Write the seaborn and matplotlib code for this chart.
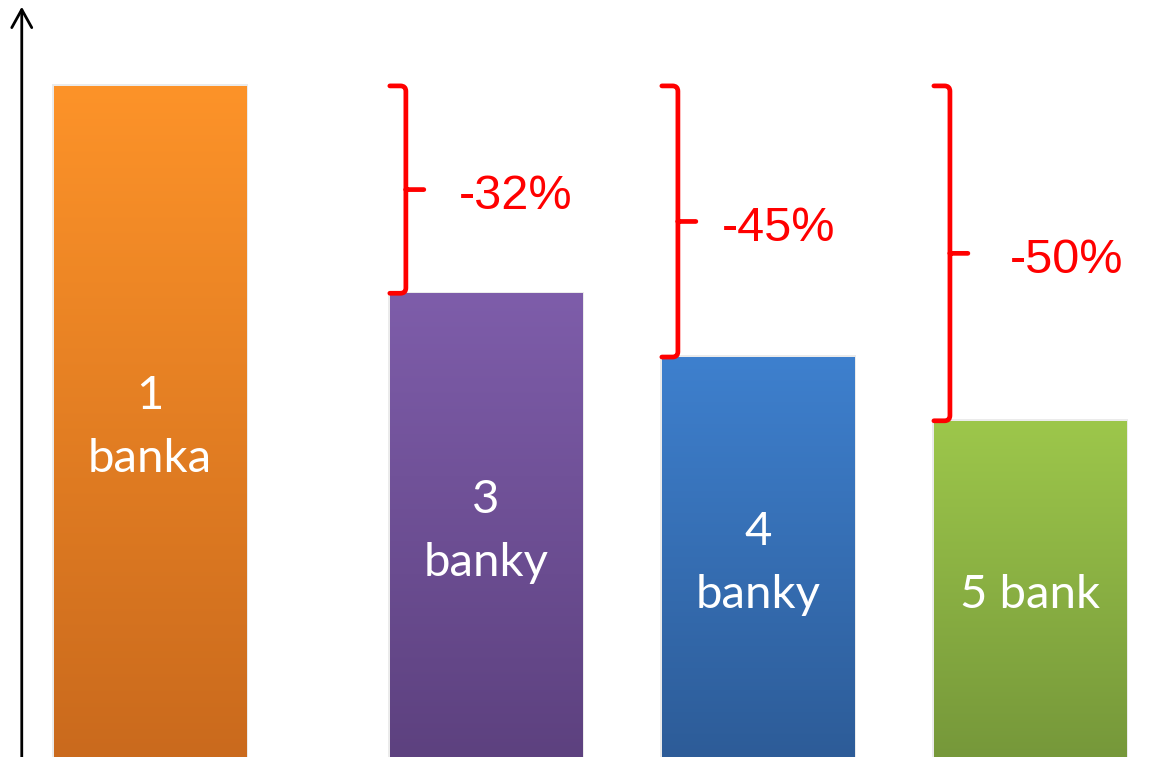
import numpy as np
import pandas as pd
import matplotlib.pyplot as plt
import seaborn as sns
from matplotlib.colors import LinearSegmentedColormap
from matplotlib.path import Path
from matplotlib.patches import PathPatch

# data (bar heights relative to the first bar)
labels = ["1\nbanka", "3\nbanky", "4\nbanky", "5 bank"]
values = [100, 69.1, 59.6, 50.1]
xpos = [0, 1.235, 2.235, 3.235]
drops = ["-32%", "-45%", "-50%"]
top_colors = ["#FD9329", "#7E5DAA", "#3E80CE", "#9DC74B"]
bottom_colors = ["#CA6A1D", "#5D417F", "#2D5C98", "#76983A"]

df = pd.DataFrame({"x": xpos, "value": values, "label": labels})

sns.set_theme(style="white")
fig = plt.figure(figsize=(11.73, 7.57), dpi=100)
ax = fig.add_axes([0, 0, 1, 1])
sns.barplot(data=df, x="x", y="value", native_scale=True, width=0.706,
            color="white", saturation=1, ax=ax, errorbar=None)
ax.set_xlim(-0.551, 3.761)
ax.set_ylim(0, 112.8)
ax.axis("off")

# gradient fill inside each bar
bars = sorted(ax.patches, key=lambda p: p.get_x())
for bar, c_top, c_bot in zip(bars, top_colors, bottom_colors):
    x0, w, h = bar.get_x(), bar.get_width(), bar.get_height()
    bar.set_facecolor("none")
    bar.set_edgecolor("none")
    # soft shadow
    ax.add_patch(plt.Rectangle((x0 - 0.006, 0), w + 0.012, h + 0.25,
                               color="#000000", alpha=0.08, lw=0, zorder=1))
    cmap = LinearSegmentedColormap.from_list("g", [c_bot, c_top])
    grad = np.linspace(0, 1, 256).reshape(-1, 1)
    im = ax.imshow(grad, cmap=cmap, aspect="auto", origin="lower",
                   extent=(x0, x0 + w, 0, h), zorder=2)
    im.set_clip_path(bar)

for bar, lab in zip(bars, labels):
    ax.text(bar.get_x() + bar.get_width() / 2, bar.get_height() / 2 - 0.9, lab,
            ha="center", va="center", color="white", fontsize=34,
            family="Lato", linespacing=1.62, zorder=3)

# y axis arrow
ax.annotate("", xy=(-0.471, 111.8), xytext=(-0.471, -1),
            arrowprops=dict(arrowstyle="->,head_length=0.65,head_width=0.36",
                            lw=2, color="black", mutation_scale=20,
                            shrinkA=0, shrinkB=0))

# brackets with percentage drops
text_offsets = [0.254, 0.22, 0.28]
top = values[0]
for bar, val, txt, off in zip(bars[1:], values[1:], drops, text_offsets):
    left = bar.get_x()
    vx = left + 0.059
    nub = left + 0.125
    rx, ry = 0.02, 0.8
    mid = (top + val) / 2
    verts = [(left, top), (vx - rx, top), (vx, top), (vx, top - ry),
             (vx, val + ry), (vx, val), (vx - rx, val), (left, val),
             (vx, mid), (nub, mid)]
    codes = [Path.MOVETO, Path.LINETO, Path.CURVE3, Path.CURVE3,
             Path.LINETO, Path.CURVE3, Path.CURVE3, Path.LINETO,
             Path.MOVETO, Path.LINETO]
    ax.add_patch(PathPatch(Path(verts, codes), fill=False, edgecolor="#FF0000",
                           lw=3.4, capstyle="round", joinstyle="round", zorder=4))
    ax.text(left + off, mid - 1.0, txt, ha="left", va="center",
            color="#FF0000", fontsize=35, family="Liberation Sans", zorder=4)

fig.savefig("out.png", dpi=100)
